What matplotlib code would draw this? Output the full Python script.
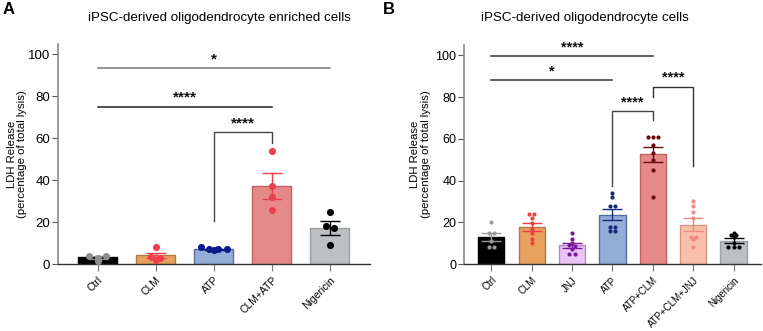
import numpy as np
import matplotlib.pyplot as plt

plt.rcParams['font.family'] = ['Liberation Sans', 'DejaVu Sans']

# Panel A: iPSC-derived oligodendrocyte enriched cells
groups_a = ['Ctrl', 'CLM', 'ATP', 'CLM+ATP', 'Nigericin']
points_a = [
    [4, 3, 4, 1.5],
    [8, 3.5, 3, 2],
    [8, 7, 7, 7, 6.5],
    [54, 37, 32, 26],
    [25, 18, 17, 9],
]
bar_a = ['#000000', '#E8A15E', '#93AED6', '#E58A88', '#BDC0C3']
edge_a = ['#000000', '#B47A42', '#52709C', '#C8605E', '#9C9FA2']
dot_a = ['#8E8E8E', '#F03E4C', '#0B1A8C', '#E8404E', '#000000']

# Panel B: iPSC-derived oligodendrocyte cells
groups_b = ['Ctrl', 'CLM', 'JNJ', 'ATP', 'ATP+CLM', 'ATP+CLM+JNJ', 'Nigericin']
points_b = [
    [20, 15, 15, 11, 8, 8],
    [24, 24, 22, 19.5, 17, 15, 12, 10],
    [15, 12, 10, 9, 8.5, 7, 5, 5],
    [34, 32, 28, 28, 17.5, 17.5, 16, 16],
    [61, 61, 61, 57, 53, 50, 45, 32],
    [30, 28, 25, 22, 13, 12, 13, 8],
    [15, 14, 14, 13, 10, 8, 8, 8],
]
bar_b = ['#000000', '#E8A15E', '#EBC4F5', '#93AED6', '#E58A88', '#F9C0A8', '#BDC0C3']
edge_b = ['#000000', '#B47A42', '#B48AC0', '#52709C', '#C8605E', '#D49580', '#9C9FA2']
dot_b = ['#9A9A9A', '#F04040', '#7A1A9A', '#1A2A7A', '#6A0A10', '#F08888', '#000000']

# significance annotations: (i, j, y, left-leg bottom, right-leg bottom, label, color)
sig_a = [(0, 4, 93.3, None, None, '*', '#777777'),
         (0, 3, 75, None, None, '****', '#222222'),
         (2, 3, 62.8, 20.4, 57.5, '****', '#444444')]
sig_b = [(0, 4, 99.5, None, None, '****', '#333333'),
         (0, 3, 88, None, None, '*', '#333333'),
         (4, 5, 84.8, 80, 47, '****', '#333333'),
         (3, 4, 73.2, 37.6, 68.9, '****', '#444444')]


def swarm(vals, tol, step):
    # spread points with similar values sideways
    vals = np.asarray(vals, dtype=float)
    offs = np.zeros(len(vals))
    used = np.zeros(len(vals), bool)
    for i in range(len(vals)):
        if used[i]:
            continue
        idx = [k for k in range(len(vals)) if not used[k] and abs(vals[k] - vals[i]) <= tol]
        n = len(idx)
        for m, k in enumerate(idx):
            offs[k] = (m - (n - 1) / 2) * step
            used[k] = True
    return offs


def panel(ax, groups, points, bars, edges, dots, sigs, width, ms, tol, step,
          fs_sig, fs_tick, fs_lab, fs_x, lpad):
    x = np.arange(len(groups))
    means = [np.mean(p) for p in points]
    sems = [np.std(p, ddof=1) / np.sqrt(len(p)) for p in points]
    ax.bar(x, means, width=width, color=bars, edgecolor=edges, linewidth=1.0, zorder=2)
    for i, p in enumerate(points):
        ax.errorbar(x[i], means[i], yerr=sems[i], color=dots[i], capsize=width * 11,
                    elinewidth=1.0, capthick=1.0, zorder=3)
        ax.scatter(x[i] + swarm(p, tol, step), p, s=ms, color=dots[i], zorder=4, linewidths=0)
    for i, j, y, lb, rb, lab, c in sigs:
        if lb is None:
            ax.plot([x[i], x[j]], [y, y], color=c, lw=1.1, zorder=1)
        else:
            ax.plot([x[i], x[i], x[j], x[j]], [lb, y, y, rb], color=c, lw=1.0, zorder=1)
        ax.text((x[i] + x[j]) / 2, y + 1.0, lab, ha='center', va='bottom',
                fontsize=fs_sig, fontweight='bold', color='#111111')
    ax.set_xlim(-0.68, len(groups) - 0.31)
    ax.set_ylim(0, 105)
    ax.set_yticks([0, 20, 40, 60, 80, 100])
    ax.set_xticks(x)
    ax.set_xticklabels(groups, rotation=45, ha='right', rotation_mode='anchor', fontsize=fs_x)
    ax.tick_params(axis='y', labelsize=fs_tick, length=4, color='#555555', pad=1.5)
    ax.tick_params(axis='x', length=5, color='#777777', pad=3)
    for s in ['top', 'right']:
        ax.spines[s].set_visible(False)
    ax.spines['left'].set_color('#8A8A8A')
    ax.spines['left'].set_linewidth(1.2)
    ax.spines['bottom'].set_color('#333333')
    ax.spines['bottom'].set_linewidth(1.0)
    ax.set_ylabel('LDH Release\n(percentage of total lysis)', fontsize=fs_lab, labelpad=lpad,
                  linespacing=1.1)


fig = plt.figure(figsize=(7.63, 3.31), dpi=100)
ax_a = fig.add_axes([0.076, 0.2024, 0.409, 0.665])
ax_b = fig.add_axes([0.608, 0.2024, 0.39, 0.662])

panel(ax_a, groups_a, points_a, bar_a, edge_a, dot_a, sig_a, 0.67, 26, 1.2, 0.15,
      11, 9.5, 8.2, 7.5, 0.5)
panel(ax_b, groups_b, points_b, bar_b, edge_b, dot_b, sig_b, 0.65, 9, 0.6, 0.13,
      10.5, 9, 8.2, 7.0, 3)

fig.text(0.288, 0.945, 'iPSC-derived oligodendrocyte enriched cells', ha='center', va='center', fontsize=9.6)
fig.text(0.767, 0.945, 'iPSC-derived oligodendrocyte cells', ha='center', va='center', fontsize=9.6)
fig.text(0.004, 0.972, 'A', ha='left', va='center', fontsize=12, fontweight='bold')
fig.text(0.502, 0.972, 'B', ha='left', va='center', fontsize=12, fontweight='bold')

fig.savefig('out.png', dpi=100)
